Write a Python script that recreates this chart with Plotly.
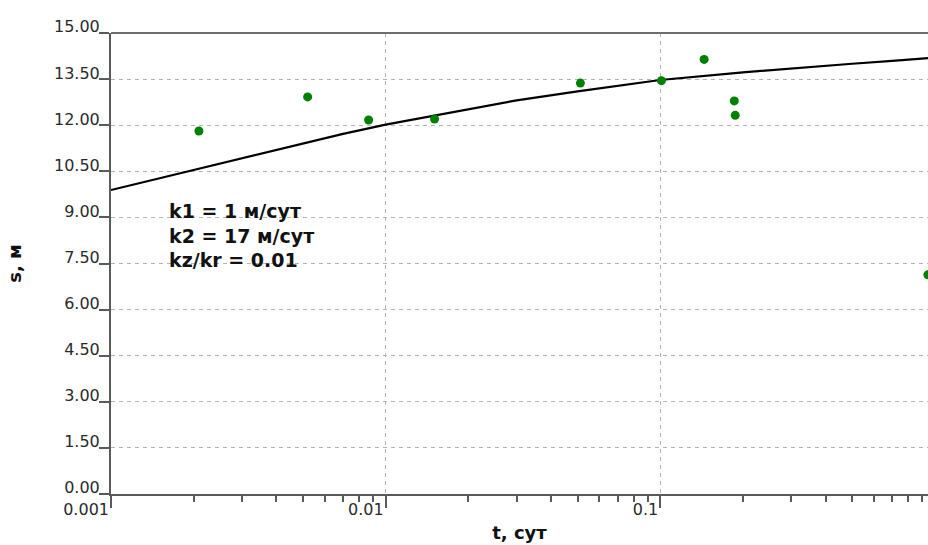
import plotly.graph_objects as go

# Measured drawdown s (m) vs time t (days)
obs_t = [0.00209, 0.0052, 0.00867, 0.01507, 0.0512, 0.101, 0.1445, 0.186, 0.1875, 0.943]
obs_s = [11.81, 12.92, 12.17, 12.20, 13.37, 13.45, 14.14, 12.79, 12.32, 7.13]

# Model type curve
fit_t = [0.001, 0.002, 0.003, 0.005, 0.007, 0.01, 0.015, 0.02, 0.03, 0.05, 0.07,
         0.1, 0.2, 0.3, 0.5, 0.7, 0.93, 1.0]
fit_s = [9.89, 10.55, 10.93, 11.41, 11.72, 12.02, 12.32, 12.53, 12.81, 13.10, 13.28,
         13.47, 13.72, 13.85, 14.00, 14.09, 14.18, 14.20]

# Axis ticks
y_ticks = [0.0, 1.5, 3.0, 4.5, 6.0, 7.5, 9.0, 10.5, 12.0, 13.5, 15.0]
y_tick_text = ["0.00", "1.50", "3.00", "4.50", "6.00", "7.50", "9.00",
               "10.50", "12.00", "13.50", "15.00"]
x_ticks = [0.001, 0.01, 0.1]
x_tick_text = ["0.001", "0.01", "0.1"]
x_minor = [m * d for d in (0.001, 0.01, 0.1) for m in range(2, 10)]

params_text = ["k1 = 1 м/сут", "k2 = 17 м/сут", "kz/kr = 0.01"]

AXIS = "#5a5a5a"
GRID = "#b4b4b4"
TXT = "#2a2a2a"
TICK_FONT = dict(family="DejaVu Sans", size=16, color=TXT)
BOLD = "DejaVu Sans"

fig = go.Figure()
fig.add_trace(go.Scatter(
    x=fit_t, y=fit_s, mode="lines",
    line=dict(color="black", width=2.2),
    showlegend=False, hoverinfo="skip",
))
fig.add_trace(go.Scatter(
    x=obs_t, y=obs_s, mode="markers",
    marker=dict(color="#008000", size=9, line=dict(width=0)),
    cliponaxis=False, showlegend=False,
))

fig.add_annotation(
    text="<b>" + "<br>".join(params_text) + "</b>",
    xref="paper", yref="paper",
    x=(167 - 111) / 817, y=(494 - 236) / 461,
    xanchor="left", yanchor="middle", align="left",
    showarrow=False,
    font=dict(family=BOLD, size=19, color="#111111"),
)

fig.update_layout(
    width=928, height=545,
    margin=dict(l=111, r=0, t=33, b=51),
    paper_bgcolor="white", plot_bgcolor="white",
)

fig.update_xaxes(
    type="log", range=[-3, -0.025],
    tickvals=x_ticks, ticktext=x_tick_text,
    ticks="outside", ticklen=12, tickwidth=2, tickcolor=AXIS,
    ticklabelposition="outside left",
    tickfont=TICK_FONT,
    showline=True, linecolor=AXIS, linewidth=2,
    showgrid=True, gridcolor=GRID, gridwidth=1, griddash="4px,4px",
    minor=dict(tickvals=x_minor, ticks="outside", ticklen=6,
               tickwidth=2, tickcolor=AXIS, showgrid=False),
    zeroline=False,
    title=dict(text="<b>t, сут</b>", font=dict(family=BOLD, size=18, color="#111111"),
               standoff=8),
)
fig.update_yaxes(
    range=[0, 15],
    tickvals=y_ticks, ticktext=y_tick_text,
    ticks="outside", ticklen=10, tickwidth=2, tickcolor=AXIS,
    ticklabelposition="outside top",
    ticklabelshift=6, ticklabelstandoff=6,
    tickfont=TICK_FONT,
    showline=True, linecolor=AXIS, linewidth=2,
    showgrid=True, gridcolor=GRID, gridwidth=1, griddash="4px,4px",
    zeroline=False,
    title=dict(text="<b>s, м</b>", font=dict(family=BOLD, size=18, color="#111111"),
               standoff=28),
)

# Frame line along the top of the plot area
fig.add_shape(type="line", xref="paper", yref="paper", x0=0, x1=1, y0=1, y1=1,
              line=dict(color="#6e6e6e", width=2))

fig.write_html("out.html")
